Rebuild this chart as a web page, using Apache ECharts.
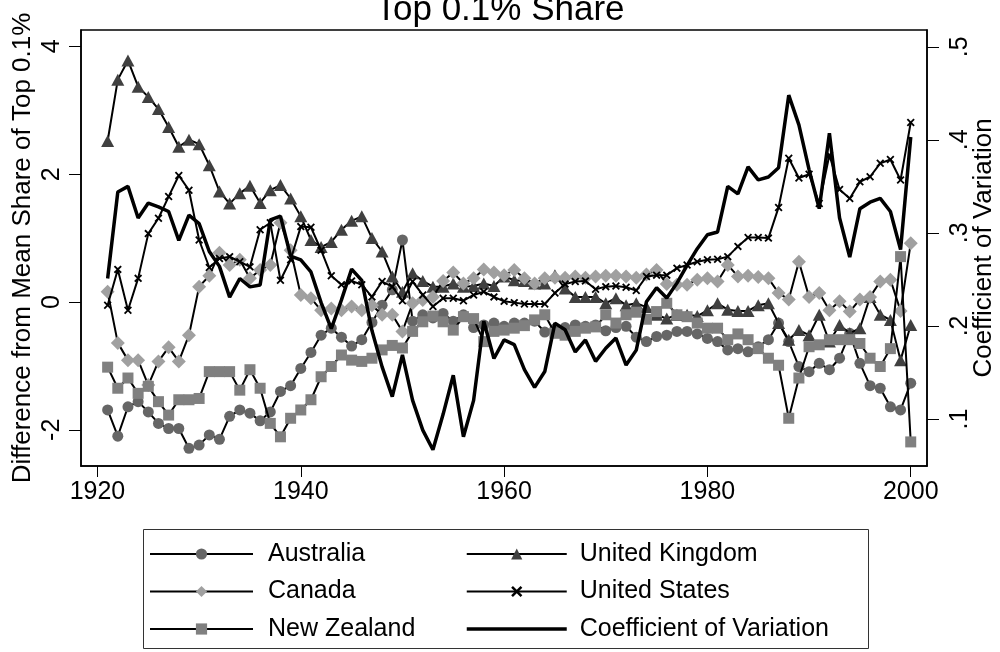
<!DOCTYPE html>
<html><head><meta charset="utf-8">
<script src="https://cdn.jsdelivr.net/npm/echarts@6/dist/echarts.min.js"></script>
<style>html,body{margin:0;padding:0;background:#fff}#c{width:1000px;height:652px}</style>
</head><body><div id="c"></div><script>
const years = [1921,1922,1923,1924,1925,1926,1927,1928,1929,1930,
 1931,1932,1933,1934,1935,1936,1937,1938,1939,1940,
 1941,1942,1943,1944,1945,1946,1947,1948,1949,1950,
 1951,1952,1953,1954,1955,1956,1957,1958,1959,1960,
 1961,1962,1963,1964,1965,1966,1967,1968,1969,1970,
 1971,1972,1973,1974,1975,1976,1977,1978,1979,1980,
 1981,1982,1983,1984,1985,1986,1987,1988,1989,1990,
 1991,1992,1993,1994,1995,1996,1997,1998,1999,2000];
const australia = [-1.69,-2.10,-1.64,-1.56,-1.72,-1.90,-1.98,-1.98,-2.29,-2.24,
 -2.08,-2.15,-1.79,-1.69,-1.74,-1.86,-1.72,-1.40,-1.31,-1.04,
 -0.79,-0.52,-0.41,-0.55,-0.69,-0.59,-0.32,-0.05,0.19,0.97,
 -0.30,-0.20,-0.25,-0.18,-0.30,-0.20,-0.40,-0.36,-0.33,-0.38,
 -0.33,-0.33,-0.30,-0.47,-0.42,-0.40,-0.36,-0.38,-0.36,-0.45,
 -0.40,-0.38,-0.55,-0.62,-0.54,-0.52,-0.46,-0.46,-0.50,-0.57,
 -0.62,-0.75,-0.73,-0.78,-0.70,-0.59,-0.33,-0.62,-1.01,-1.09,
 -0.96,-1.06,-0.88,-0.49,-0.96,-1.31,-1.35,-1.64,-1.69,-1.27];
const canada = [0.16,-0.64,-0.91,-0.91,-1.30,-0.93,-0.71,-0.93,-0.52,0.24,
 0.41,0.77,0.58,0.66,0.37,0.50,0.58,1.24,0.81,0.11,
 0.06,-0.13,-0.10,-0.13,-0.07,-0.13,-0.05,-0.20,-0.20,-0.46,
 -0.02,0.03,0.08,0.33,0.46,0.29,0.37,0.51,0.46,0.42,
 0.50,0.37,0.29,0.37,0.38,0.38,0.40,0.38,0.40,0.41,
 0.41,0.40,0.38,0.43,0.50,0.28,0.27,0.27,0.35,0.37,
 0.32,0.58,0.40,0.41,0.39,0.37,0.14,0.04,0.63,0.08,
 0.14,-0.13,0.01,-0.15,0.04,0.08,0.32,0.35,-0.14,0.92];
const newZealand = [-1.02,-1.35,-1.19,-1.43,-1.32,-1.56,-1.77,-1.53,-1.53,-1.51,
 -1.09,-1.09,-1.09,-1.38,-1.06,-1.35,-1.90,-2.11,-1.82,-1.69,
 -1.53,-1.17,-1.01,-0.83,-0.91,-0.93,-0.88,-0.75,-0.68,-0.72,
 -0.46,-0.31,-0.22,-0.31,-0.44,-0.23,-0.26,-0.62,-0.46,-0.44,
 -0.41,-0.37,-0.28,-0.20,-0.49,-0.52,-0.46,-0.41,-0.39,-0.20,
 -0.33,-0.20,-0.16,-0.27,-0.15,-0.02,-0.20,-0.23,-0.33,-0.41,
 -0.41,-0.59,-0.50,-0.59,-0.73,-0.88,-0.99,-1.82,-1.19,-0.70,
 -0.67,-0.59,-0.59,-0.59,-0.65,-0.88,-1.01,-0.73,0.71,-2.19];
const unitedKingdom = [2.52,3.48,3.78,3.37,3.21,3.02,2.74,2.43,2.54,2.47,
 2.14,1.73,1.54,1.70,1.82,1.55,1.75,1.83,1.62,1.34,
 0.97,0.86,0.94,1.13,1.27,1.34,1.00,0.79,0.40,0.16,
 0.45,0.33,0.24,0.24,0.29,0.24,0.25,0.29,0.25,0.40,
 0.34,0.33,0.29,0.29,0.42,0.21,0.08,0.08,0.08,-0.02,
 0.06,-0.05,-0.02,-0.08,-0.20,-0.26,-0.20,-0.20,-0.22,-0.13,
 -0.02,-0.12,-0.14,-0.14,-0.05,-0.02,-0.33,-0.59,-0.44,-0.52,
 -0.20,-0.62,-0.36,-0.49,-0.41,0.08,-0.20,-0.28,-0.91,-0.36];
const unitedStates = [-0.05,0.51,-0.13,0.37,1.07,1.31,1.65,1.98,1.75,0.97,
 0.54,0.68,0.71,0.63,0.55,1.13,1.24,0.34,0.66,1.18,
 1.17,0.81,0.41,0.27,0.33,0.27,0.08,0.32,0.24,0.02,
 0.32,0.11,-0.07,0.06,0.06,0.02,0.11,0.16,0.08,0.01,
 -0.01,-0.03,-0.03,-0.03,0.14,0.28,0.32,0.33,0.20,0.24,
 0.25,0.23,0.18,0.40,0.42,0.42,0.53,0.58,0.63,0.66,
 0.67,0.71,0.87,1.01,1.01,1.00,1.48,2.25,1.94,2.00,
 1.54,2.30,1.76,1.62,1.88,1.96,2.17,2.23,1.91,2.81];
const coefVariation = [0.251,0.344,0.350,0.316,0.332,0.328,0.323,0.292,0.319,0.310,
 0.280,0.264,0.231,0.251,0.242,0.244,0.314,0.318,0.275,0.271,
 0.258,0.225,0.197,0.228,0.261,0.249,0.195,0.156,0.124,0.169,
 0.120,0.088,0.067,0.105,0.147,0.081,0.120,0.205,0.165,0.185,
 0.180,0.153,0.134,0.151,0.203,0.196,0.172,0.185,0.162,0.176,
 0.187,0.158,0.174,0.226,0.241,0.230,0.246,0.265,0.283,0.298,
 0.301,0.350,0.342,0.371,0.357,0.360,0.370,0.448,0.416,0.368,
 0.326,0.407,0.316,0.274,0.326,0.333,0.337,0.323,0.282,0.403];
const xTicks = [1920,1940,1960,1980,2000];
const leftTicks = [-2,0,2,4];
const rightTicks = [0.1,0.2,0.3,0.4,0.5];

const FONT = '"Liberation Sans", Arial, Helvetica, sans-serif';
const xMark = 'path://M0,1.6L1.6,0L5,3.4L8.4,0L10,1.6L6.6,5L10,8.4L8.4,10L5,6.6L1.6,10L0,8.4L3.4,5Z';
function pairs(arr){ return years.map((y,i)=>[y, arr[i]]); }
function country(name, arr, symbol, size, color, z){
  return {name, type:'line', data:pairs(arr), yAxisIndex:0, symbol, symbolSize:size,
    showSymbol:true, showAllSymbol:true, itemStyle:{color, borderWidth:0},
    lineStyle:{color:'#000', width:2}, emphasis:{disabled:true}, z, silent:true};
}
const chart = echarts.init(document.getElementById('c'), null, {renderer:'canvas'});
const axisText = {fontSize:25, color:'#000', fontFamily:FONT};
const legendText = {fontSize:25, lineHeight:26, color:'#000', fontFamily:FONT};
chart.setOption({
  animation:false,
  backgroundColor:'#fff',
  textStyle:{fontFamily:FONT},
  title:{text:'Top 0.1% Share', left:'center', top:-12,
    textStyle:{fontSize:35, fontWeight:'normal', color:'#000', fontFamily:FONT}},
  grid:{left:81, right:73, top:30, bottom:186, outerBoundsMode:'none', containLabel:false,
    show:true, borderColor:'#000', borderWidth:1.5, backgroundColor:'#fff'},
  xAxis:{type:'value', min:1918.38, max:2001.6,
    axisLine:{onZero:false, lineStyle:{color:'#000', width:1.5}},
    axisTick:{customValues:xTicks, length:11, lineStyle:{color:'#000', width:1}},
    axisLabel:Object.assign({customValues:xTicks, margin:14, formatter:v=>String(v)}, axisText),
    splitLine:{show:false}},
  yAxis:[{type:'value', position:'left', min:-2.567, max:4.257,
    axisLine:{show:true, onZero:false, lineStyle:{color:'#000', width:1.5}},
    axisTick:{show:true, customValues:leftTicks, length:12, lineStyle:{color:'#000', width:1}},
    axisLabel:Object.assign({customValues:leftTicks, rotate:90, margin:16, formatter:v=>String(v)}, axisText),
    splitLine:{show:false},
    name:'Difference from Mean Share of Top 0.1%', nameLocation:'middle', nameRotate:90, nameGap:45,
    nameMoveOverlap:false,
    nameTextStyle:{fontSize:26, color:'#000', fontFamily:FONT}},
   {type:'value', position:'right', min:0.0495, max:0.518,
    axisLine:{show:true, onZero:false, lineStyle:{color:'#000', width:1.5}},
    axisTick:{show:true, customValues:rightTicks, length:12, lineStyle:{color:'#000', width:1}},
    axisLabel:Object.assign({customValues:rightTicks, rotate:90, margin:21,
      formatter:v=>String(Math.round(v*10)/10).replace(/^0/, '')}, axisText),
    splitLine:{show:false},
    name:'Coefficient of Variation', nameLocation:'middle', nameRotate:90, nameGap:44,
    nameMoveOverlap:false,
    nameTextStyle:{fontSize:26, color:'#000', fontFamily:FONT}}],
  legend:[
    {orient:'vertical', left:144, top:536, itemWidth:103, itemHeight:14, itemGap:11.5,
     selectedMode:false, data:['Australia','Canada','New Zealand'],
     textStyle:Object.assign({padding:[0,0,0,10]}, legendText)},
    {orient:'vertical', left:460, top:536, itemWidth:100, itemHeight:14, itemGap:11.5,
     selectedMode:false,
     data:['United Kingdom','United States',
       {name:'Coefficient of Variation', itemStyle:{opacity:0}, lineStyle:{width:3.5, color:'#000'}}],
     textStyle:Object.assign({padding:[0,0,0,8]}, legendText)}
  ],
  graphic:[{type:'rect', left:141, top:527, shape:{width:725, height:119},
    style:{fill:null, stroke:'#333', lineWidth:1}, silent:true}],
  series:[
    country('Australia', australia, 'circle', 11, '#666666', 2),
    country('United Kingdom', unitedKingdom, 'triangle', [13,12], '#404040', 3),
    country('Canada', canada, 'diamond', [14,14], '#a0a0a0', 4),
    country('United States', unitedStates, xMark, 8, '#000000', 5),
    country('New Zealand', newZealand, 'rect', 11, '#808080', 6),
    {name:'Coefficient of Variation', type:'line', yAxisIndex:1, data:pairs(coefVariation),
     symbol:'none', lineStyle:{color:'#000', width:3.5}, itemStyle:{color:'#000'},
     emphasis:{disabled:true}, z:7, silent:true}
  ]
});
</script></body></html>
